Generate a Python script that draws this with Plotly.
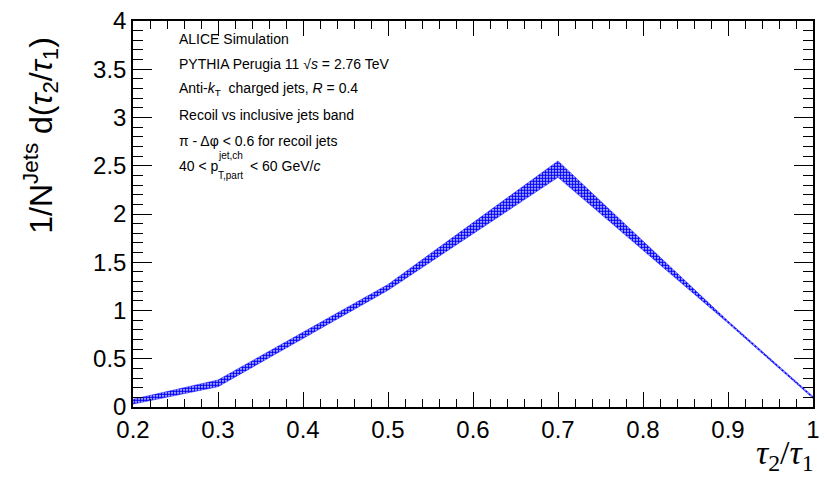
import plotly.graph_objects as go

# Band of the tau2/tau1 distribution (recoil vs inclusive jets)
tau_ratio = [0.2, 0.3, 0.5, 0.7, 0.9, 1.0]
band_low = [0.03, 0.21, 1.21, 2.38, 0.87, 0.09]
band_high = [0.08, 0.28, 1.27, 2.55, 0.89, 0.11]

x_ticks = [0.2, 0.3, 0.4, 0.5, 0.6, 0.7, 0.8, 0.9, 1.0]
y_ticks = [0, 0.5, 1, 1.5, 2, 2.5, 3, 3.5, 4]

W, H = 827, 482
L, R, T, B = 133, 7, 17, 75


def px(x):
    return (x - L) / (W - L - R)


def py(y):
    return (H - B - y) / (H - T - B)


band_x = tau_ratio + tau_ratio[::-1]
band_y = band_high + band_low[::-1]

fig = go.Figure()
fig.add_trace(go.Scatter(
    x=band_x, y=band_y, mode="lines", fill="toself",
    line=dict(color="rgba(0,0,255,0.75)", width=0.6),
    fillcolor="rgba(0,0,0,0)",
    fillpattern=dict(shape=".", fgcolor="#0000ff", fgopacity=1,
                     bgcolor="rgba(255,255,255,0)", size=3, solidity=0.7),
    hoverinfo="skip", showlegend=False,
))

sans = "Liberation Sans, Arial, Helvetica, sans-serif"
serif = "Liberation Serif, Times New Roman, serif"

axis_common = dict(
    showgrid=False, zeroline=False, showline=True, linecolor="black", linewidth=1.5,
    mirror="allticks", ticks="inside", tickcolor="black", tickwidth=1,
    tickfont=dict(family=sans, size=24, color="black"),
)

fig.update_xaxes(
    range=[0.2, 1.0], tickvals=x_ticks, ticklen=15,
    minor=dict(dtick=0.02, tick0=0.2, ticks="inside", ticklen=8, tickcolor="black", tickwidth=1),
    **axis_common,
)
fig.update_yaxes(
    range=[0, 4], tickvals=y_ticks, ticklen=19,
    minor=dict(dtick=0.1, tick0=0, ticks="inside", ticklen=10, tickcolor="black", tickwidth=1),
    **axis_common,
)

annotations = []

# Axis titles
annotations.append(dict(
    x=px(40), y=py(132), xref="paper", yref="paper", textangle=-90,
    text="1/N<sup>Jets</sup> d(<i>τ</i><sub>2</sub>/<i>τ</i><sub>1</sub>)",
    showarrow=False, font=dict(family=sans, size=32, color="black"),
    xanchor="center", yanchor="middle",
))
annotations.append(dict(
    x=px(823), y=py(456), xref="paper", yref="paper",
    text="<i>τ</i><sub>2</sub>/<i>τ</i><sub>1</sub>",
    showarrow=False, font=dict(family=serif, size=34, color="black"),
    xanchor="right", yanchor="middle",
))

# Description text block
info_lines = [
    "ALICE Simulation",
    "PYTHIA Perugia 11 √<i>s</i> = 2.76 TeV",
    "Anti-<i>k</i><sub>T</sub>  charged jets, <i>R</i> = 0.4",
    "Recoil vs inclusive jets band",
    "π - Δφ < 0.6 for recoil jets",
]
info_y = [35, 60, 86, 112, 138]
for txt, yy in zip(info_lines, info_y):
    annotations.append(dict(
        x=px(177), y=py(yy), xref="paper", yref="paper", text=txt,
        showarrow=False, font=dict(family=sans, size=14, color="black"),
        xanchor="left", yanchor="middle",
    ))

# Momentum range with stacked super/subscripts
annotations.append(dict(
    x=px(177), y=py(163), xref="paper", yref="paper", text="40 < p",
    showarrow=False, font=dict(family=sans, size=14, color="black"),
    xanchor="left", yanchor="middle",
))
annotations.append(dict(
    x=px(217), y=py(153), xref="paper", yref="paper", text="jet,ch",
    showarrow=False, font=dict(family=sans, size=10, color="black"),
    xanchor="left", yanchor="middle",
))
annotations.append(dict(
    x=px(217), y=py(173), xref="paper", yref="paper", text="T,part",
    showarrow=False, font=dict(family=sans, size=10, color="black"),
    xanchor="left", yanchor="middle",
))
annotations.append(dict(
    x=px(249), y=py(163), xref="paper", yref="paper", text="< 60 GeV/<i>c</i>",
    showarrow=False, font=dict(family=sans, size=14, color="black"),
    xanchor="left", yanchor="middle",
))

fig.update_layout(
    width=W, height=H,
    margin=dict(l=L, r=R, t=T, b=B),
    paper_bgcolor="white", plot_bgcolor="white",
    annotations=annotations,
    showlegend=False,
)

fig.write_html("out.html")
